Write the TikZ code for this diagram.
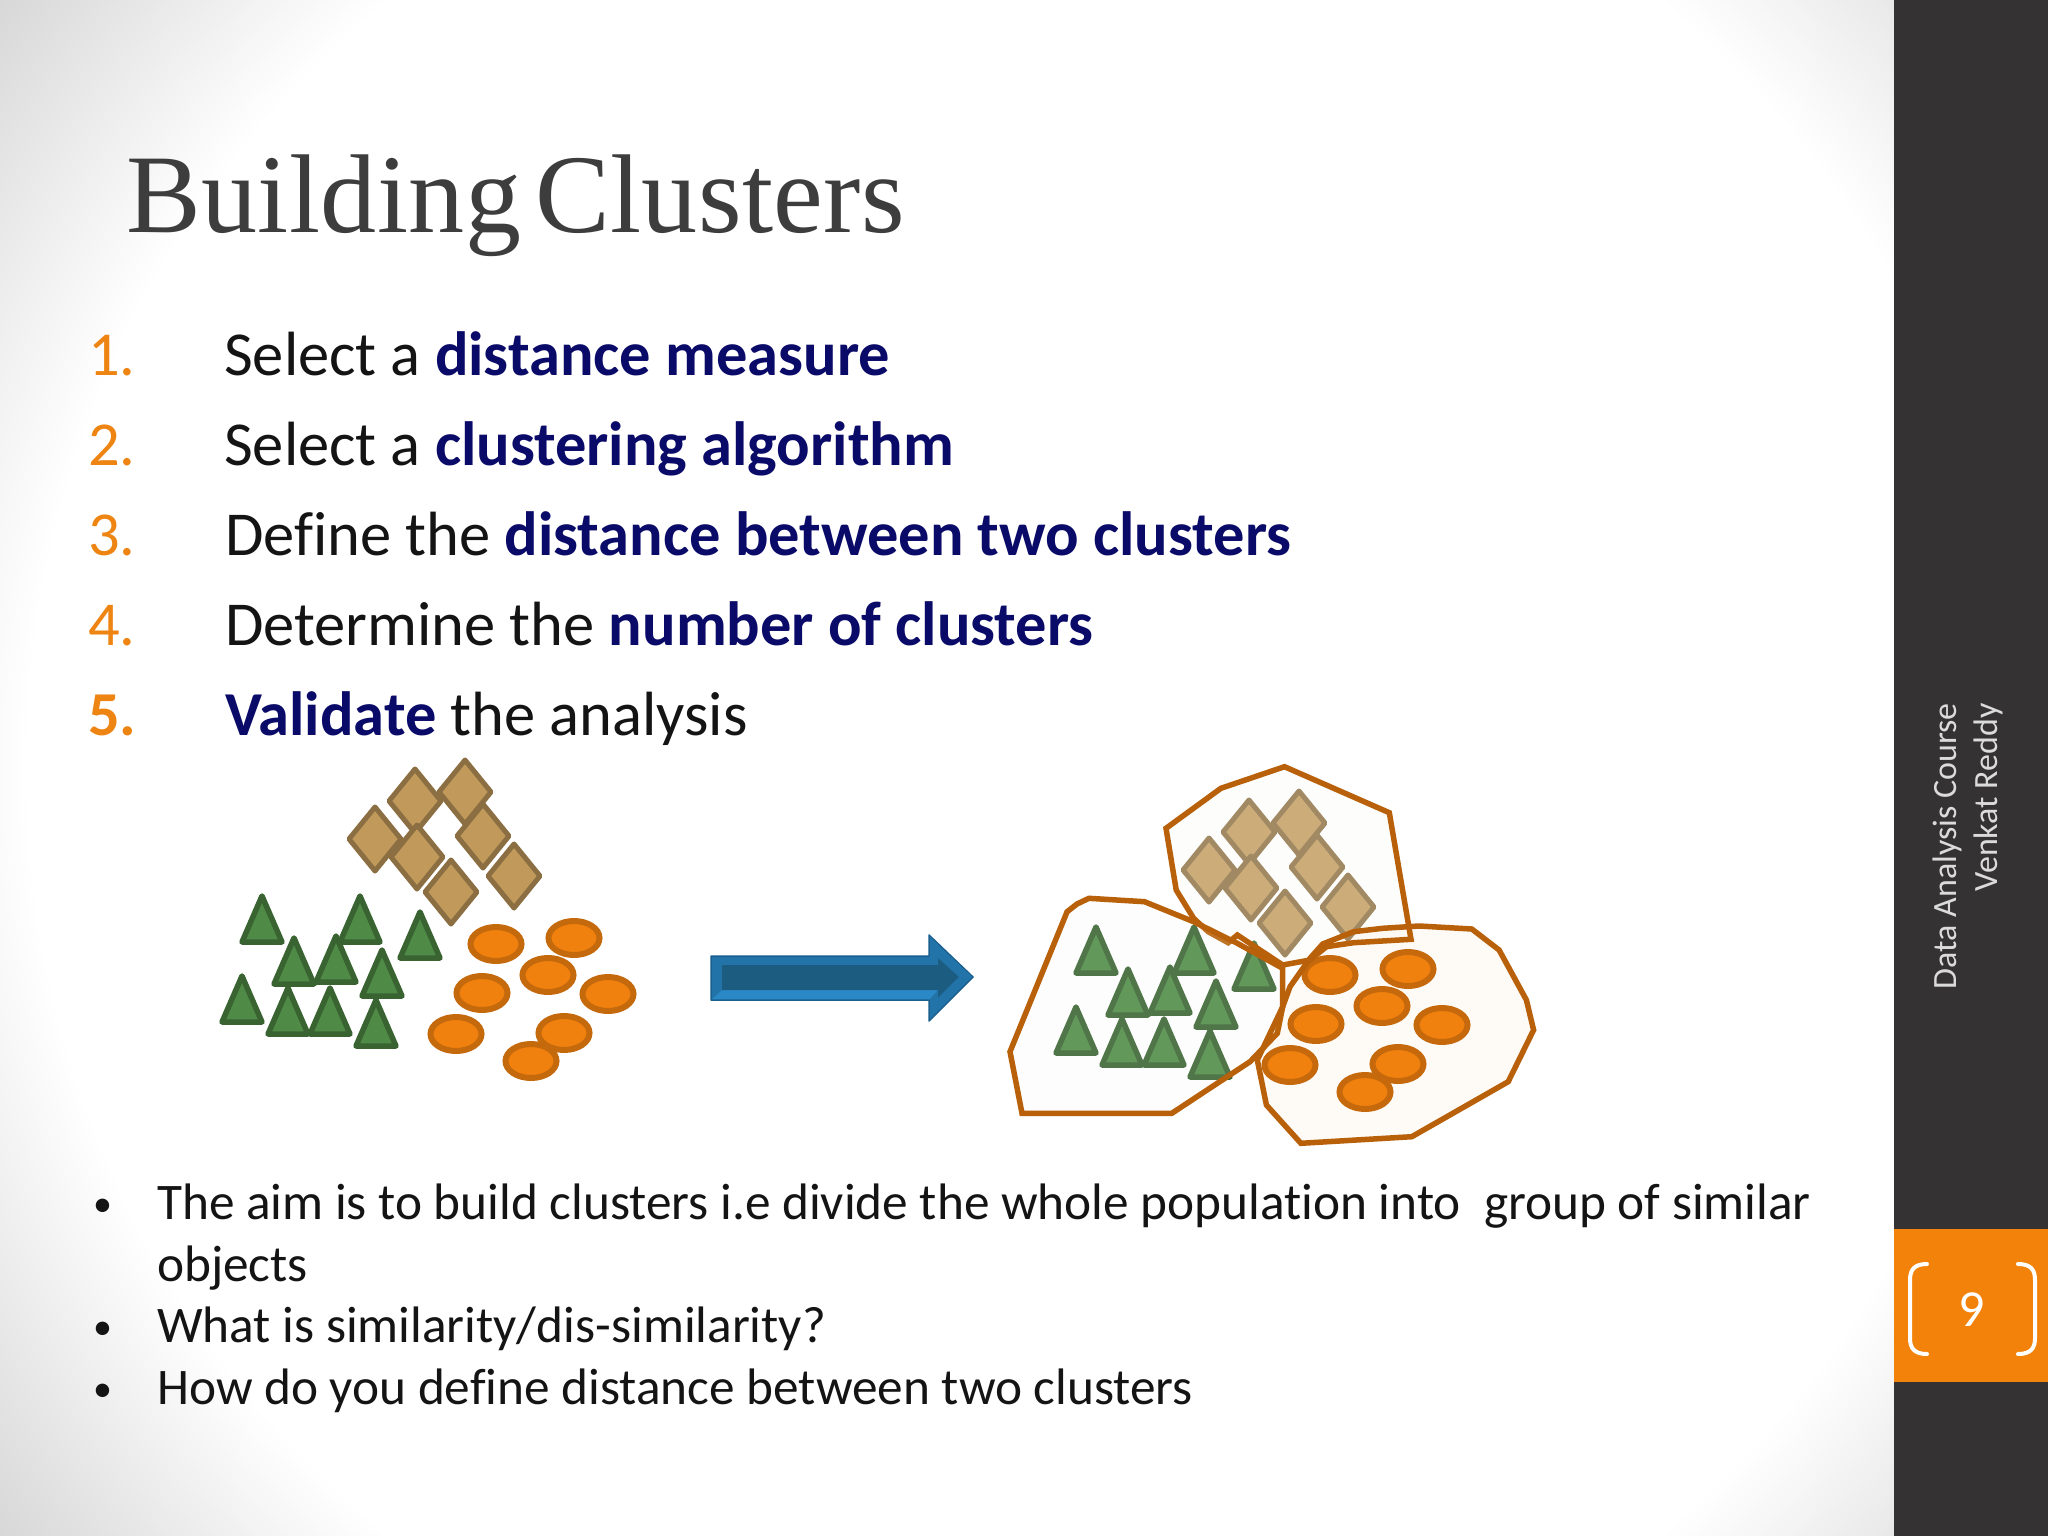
\documentclass[tikz,border=0pt]{standalone}
\usepackage{fontspec}
\setmainfont{Carlito}[Ligatures=NoCommon]
\newfontfamily\sidefont{Carlito}
\newfontfamily\titlefont{Liberation Serif}[WordSpace=0.5,LetterSpace=0.35]
\usetikzlibrary{calc,positioning}

\definecolor{keyword}{HTML}{0A0A68}
\definecolor{bodyink}{HTML}{141414}
\definecolor{numink}{HTML}{EE8412}
\definecolor{barink}{HTML}{343233}
\definecolor{tabink}{HTML}{F2820A}
\definecolor{hullink}{HTML}{B8610A}
\definecolor{bgedge}{HTML}{D8D8D8}

\newcommand{\hl}[1]{\textcolor{keyword}{\textbf{#1}}}

\definecolor{kitefill}{HTML}{C19A5B}
\definecolor{conefill}{HTML}{4F8B46}
\definecolor{blobfill}{HTML}{F0810F}
\definecolor{blobline}{HTML}{C4690C}
\definecolor{arrowedge}{HTML}{1B5F8F}
\definecolor{arrowtop}{HTML}{2273A8}
\definecolor{arrowlow}{HTML}{2A88C6}
\definecolor{arrowcore}{HTML}{1B5C80}
\tikzset{
    kite/.style={draw=kitefill!72!black,fill=kitefill,line width=5pt,line join=round},
    cone/.style={draw=conefill!72!black,fill=conefill,line width=5.5pt,line join=round},
    blob/.style={draw=blobline,fill=blobfill,line width=6pt},
    hull/.style={draw=hullink,line width=5.5pt,line join=miter},
    listnum/.style={anchor=base west,inner sep=0pt,text=numink,font=\fontsize{62.5}{66}\selectfont},
    listitem/.style={anchor=base west,inner sep=0pt,text=bodyink,font=\fontsize{62.5}{66}\selectfont},
    note/.style={anchor=base west,inner sep=0pt,text=bodyink,font=\fontsize{51.3}{55}\selectfont},
    sidetext/.style={anchor=base east,rotate=90,inner sep=0pt,text=white!86!black,font=\sidefont\fontsize{34}{38}\selectfont}
}

\begin{document}
\begin{tikzpicture}[x=1pt,y=-1pt]
    \useasboundingbox (0,0) rectangle (2048,1536);
    \clip (0,0) rectangle (2048,1536);

    % background and side bar
    \fill[bgedge] (0,0) rectangle (2048,1536);
    \foreach \s [evaluate=\s as \mix using \s*100/39] in {0,...,39}
        \fill[white!\mix!bgedge] (1024,768) circle ({1280-\s*7.2});
    \fill[barink] (1894,0) rectangle (2048,1536);
    \fill[tabink] (1894,1229) rectangle (2048,1382);
    \draw[white,line width=4pt,line cap=round] (1927,1264) .. controls (1914,1264) and (1910,1270) .. (1910,1280) -- (1910,1338) .. controls (1910,1348) and (1914,1354) .. (1927,1354);
    \draw[white,line width=4pt,line cap=round] (2018,1264) .. controls (2031,1264) and (2035,1270) .. (2035,1280) -- (2035,1338) .. controls (2035,1348) and (2031,1354) .. (2018,1354);
    \node[text=white,inner sep=0pt,font=\sidefont\fontsize{52}{56}\selectfont] (pagenum) at (1972,1310) {9};
    \node[sidetext] (course) at (1956,703) {Data Analysis Course};
    \node[sidetext] (teacher) at (1997,703) {Venkat Reddy};

    % title and steps
    \node[anchor=base west,inner sep=0pt,text=black!76,font=\titlefont\fontsize{112}{120}\selectfont] (title) at (126,232) {Building Clusters};

    \node[listnum] (numa) at (88,375.5) {1.};
    \node[listnum] (numb) at (88,465.5) {2.};
    \node[listnum] (numc) at (88,555.5) {3.};
    \node[listnum] (numd) at (88,645.5) {4.};
    \node[listnum] (nume) at (88,735.5) {\textbf{5.}};
    \node[listitem] (itema) at (224,375.5) {Select a \hl{distance measure}};
    \node[listitem] (itemb) at (224,465.5) {Select a \hl{clustering algorithm}};
    \node[listitem] (itemc) at (225,555.5) {Define the \hl{distance between two clusters}};
    \node[listitem] (itemd) at (225,645.5) {Determine the \hl{number of clusters}};
    \node[listitem] (iteme) at (225,735.5) {\hl{Validate} the analysis};

    % raw points, then the same points with their hulls
    \foreach \ox/\oy in {0/0,834/31} {
        \begin{scope}[shift={(\ox,\oy)}]
            \foreach \kx/\ky in {375/839,415/801,465/792,483/836,417/857,451/892,514/876}
                \draw[kite] (\kx,\ky-32) -- (\kx+26,\ky) -- (\kx,\ky+32) -- (\kx-26,\ky) -- cycle;
            \foreach \cx/\cy in {262/896,360/896,420/912,294/938,336/936,382/950,242/976,288/988,330/988,376/1000}
                \draw[cone] (\cx,\cy) -- (\cx+20,\cy+46) -- (\cx-20,\cy+46) -- cycle;
            \foreach \bx/\by in {496/944,574/938,548/975,482/993,608/994,456/1034,564/1033,531/1061}
                \draw[blob] (\bx,\by) ellipse (25.5 and 17);
        \end{scope}
    }

    \draw[hull,fill=white!90!kitefill,fill opacity=.2] (1284.5,766.7) -- (1389.3,812.7) -- (1411,939.3) -- (1353.6,942.7) -- (1326.4,946.7) -- (1310,960) -- (1282.7,965) -- (1237.3,935) -- (1228.2,942.7) -- (1208.2,931.7) -- (1193.6,918.3) -- (1176.2,890) -- (1166,828.3) -- (1220.9,788.3) -- cycle;
    \draw[hull,fill=white!92!conefill,fill opacity=.12] (1077,904) -- (1088.9,898.3) -- (1144.5,901.7) -- (1193.6,921.7) -- (1237.3,943.3) -- (1282.7,968.3) -- (1282.7,1006.7) -- (1277.3,1033.3) -- (1250,1061.7) -- (1171.8,1113.3) -- (1022,1113.3) -- (1010,1051.7) -- (1067.1,911.7) -- cycle;
    \draw[hull,fill=blobfill,fill opacity=.035] (1419.1,926) -- (1471.8,929) -- (1499.1,950) -- (1526.4,1000) -- (1533.6,1030) -- (1508.2,1081.7) -- (1411.8,1136.7) -- (1300.9,1143.3) -- (1266.4,1105) -- (1257.3,1060) -- (1282.7,1006.7) -- (1290,986.7) -- (1310,958.3) -- (1322.7,944) -- (1353.6,931.7) -- (1382.7,928.3) -- cycle;

    % block arrow
    \draw[arrowedge,fill=arrowlow,line width=1.5pt,line join=round] (711,956) -- (929,956) -- (929,935) -- (973,977) -- (929,1021) -- (929,1000) -- (711,1000) -- cycle;
    \fill[arrowtop] (712,957) -- (930,957) -- (930,937) -- (971,977) -- (959,977) -- (938,958) -- (938,965) -- (722,965) -- (722,990) -- (712,999) -- cycle;
    \fill[arrowcore] (722,965) -- (938,965) -- (938,958) -- (959,977) -- (938,998) -- (938,990) -- (722,990) -- cycle;
    \fill[arrowtop] (938,998) -- (959,977) -- (971,977) -- (930,1019) -- (930,999) -- (938,990) -- cycle;

    % bullets
    \foreach \by in {1219,1342,1404}
        \node[note,font=\sidefont\fontsize{38}{42}\selectfont] at (93,\by-3) {•};
    \node[note] (notea) at (157,1219) {The aim is to build clusters i.e divide the whole population into\ \ group of similar};
    \node[note] (noteb) at (157,1281) {objects};
    \node[note] (notec) at (157,1342) {What is similarity/dis-similarity?};
    \node[note] (noted) at (157,1404) {How do you define distance between two clusters};
\end{tikzpicture}
\end{document}
